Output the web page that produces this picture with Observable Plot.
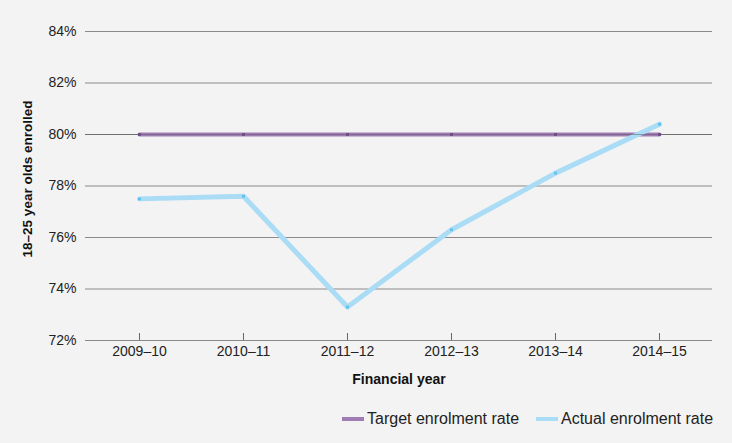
<!DOCTYPE html>
<html>
<head>
<meta charset="utf-8">
<script src="https://cdn.jsdelivr.net/npm/d3@7"></script>
<script src="https://cdn.jsdelivr.net/npm/@observablehq/plot@0.6"></script>
<style>
  html, body { margin: 0; padding: 0; background: #f3f3f3; }
  #wrap { width: 732px; height: 443px; background: #f3f3f3; position: relative; font-family: "Liberation Sans", Arial, sans-serif; }
  #legend { position: absolute; left: 0; top: 408px; width: 732px; height: 24px; }
  .item { position: absolute; top: 0; display: flex; align-items: center; font-size: 16px; color: #222; height: 22px; white-space: nowrap; }
  .sw { width: 22px; height: 4px; margin-right: 3px; }
</style>
</head>
<body>
<div id="wrap">
  <div id="chart"></div>
  <div id="legend"></div>
</div>
<script>
const years = ["2009–10", "2010–11", "2011–12", "2012–13", "2013–14", "2014–15"];
const target = [80, 80, 80, 80, 80, 80];
const actual = [77.5, 77.6, 73.3, 76.3, 78.5, 80.4];
const yTicks = [72, 74, 76, 78, 80, 82, 84];
const seriesNames = ["Target enrolment rate", "Actual enrolment rate"];
const seriesColors = ["#a07cb5", "#aadcf6"];
const dotColors = ["#6e4a85", "#5ec0ec"];

const rows = [];
years.forEach((y, i) => {
  rows.push({year: y, value: target[i], series: seriesNames[0]});
  rows.push({year: y, value: actual[i], series: seriesNames[1]});
});
const tRows = rows.filter(d => d.series === seriesNames[0]);
const aRows = rows.filter(d => d.series === seriesNames[1]);

const chart = Plot.plot({
  width: 732,
  height: 400,
  marginTop: 31,
  marginBottom: 60,
  marginLeft: 85,
  marginRight: 20,
  style: {background: "#f3f3f3", fontFamily: "Liberation Sans, Arial, sans-serif", color: "#222"},
  x: {type: "point", domain: years, padding: 0.5, align: 0.5},
  y: {domain: [72, 84]},
  marks: [
    Plot.ruleY(yTicks, {stroke: "#8a8a8a", strokeWidth: 1}),
    Plot.axisY({ticks: yTicks, tickSize: 0, tickPadding: 9, tickFormat: d => d + "%", fontSize: 14, label: null}),
    Plot.text(["18–25 year olds enrolled"], {frameAnchor: "left", textAnchor: "middle", rotate: -90, dx: -58, dy: -7, fontWeight: "bold", fontSize: 13.5, fill: "#111"}),
    Plot.axisX({tickSize: -7, tickPadding: 13, fontSize: 14, label: null, stroke: "#666"}),
    Plot.text(["Financial year"], {frameAnchor: "bottom", dy: 43, fontWeight: "bold", fontSize: 14, fill: "#111"}),
    Plot.line(tRows, {x: "year", y: "value", stroke: seriesColors[0], strokeWidth: 4}),
    Plot.line(aRows, {x: "year", y: "value", stroke: seriesColors[1], strokeWidth: 5, strokeLinejoin: "round"}),
    Plot.ruleY([80], {stroke: "#555", strokeWidth: 0.8, strokeOpacity: 0.6}),
    Plot.dot(tRows, {x: "year", y: "value", r: 1.6, fill: dotColors[0], symbol: "square"}),
    Plot.dot(aRows, {x: "year", y: "value", r: 1.6, fill: dotColors[1], symbol: "square"})
  ]
});
document.getElementById("chart").appendChild(chart);

const legend = document.getElementById("legend");
const lefts = [342, 536];
seriesNames.forEach((n, i) => {
  const it = document.createElement("div");
  it.className = "item";
  it.style.left = lefts[i] + "px";
  const sw = document.createElement("div");
  sw.className = "sw";
  sw.style.background = seriesColors[i];
  it.appendChild(sw);
  const t = document.createElement("span");
  t.textContent = n;
  it.appendChild(t);
  legend.appendChild(it);
});
</script>
</body>
</html>
